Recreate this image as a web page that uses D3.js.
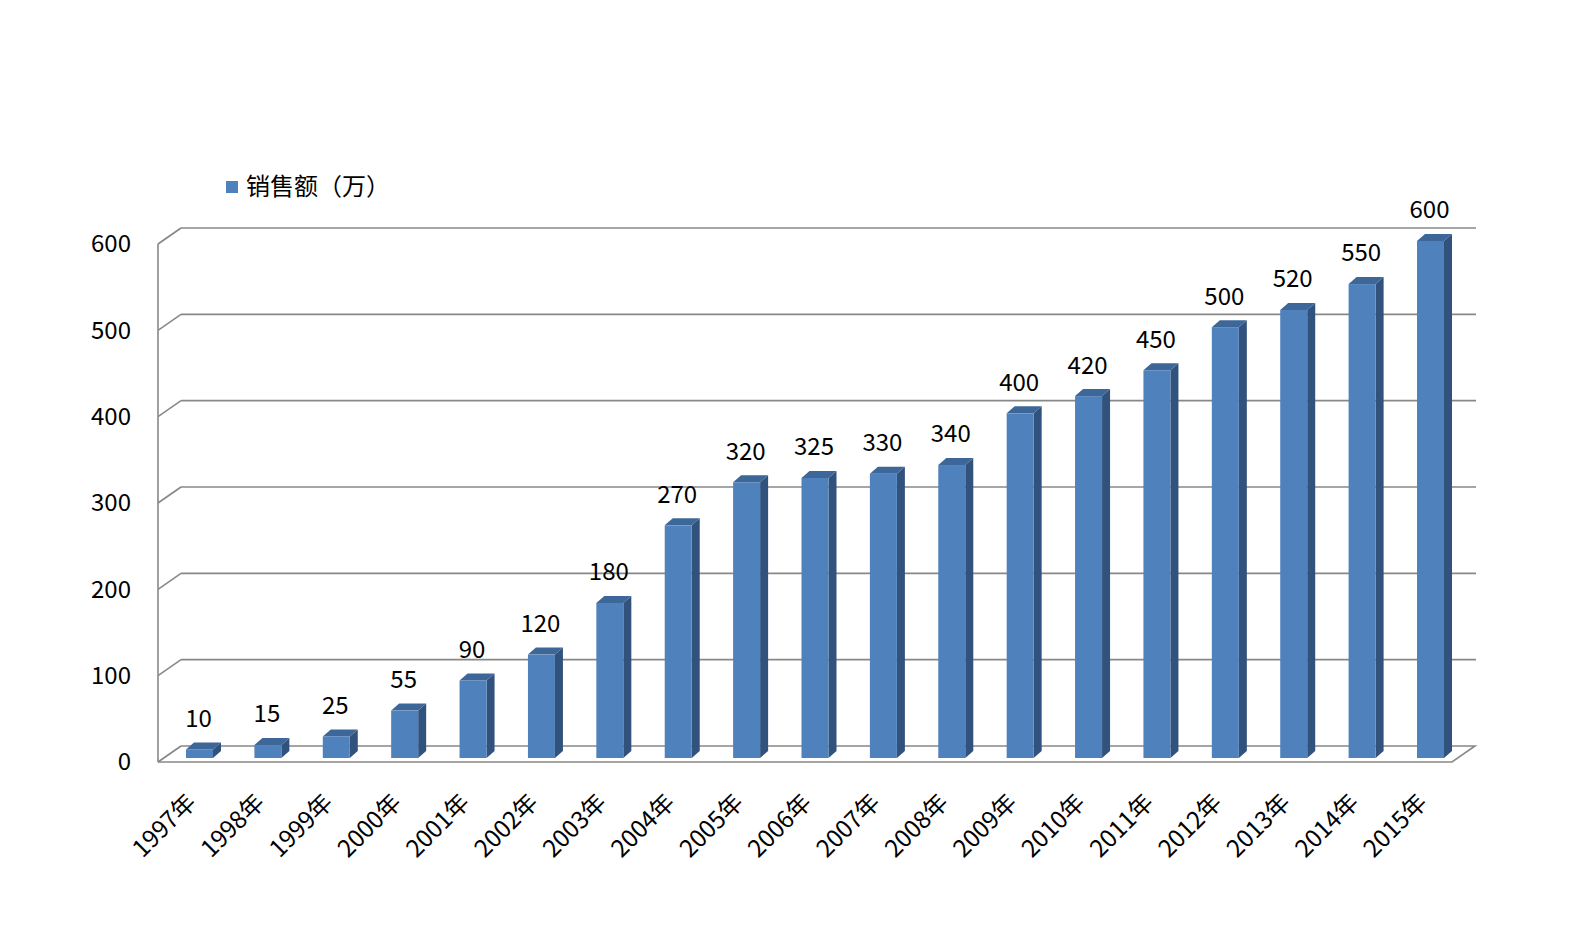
<!DOCTYPE html>
<html><head><meta charset="utf-8">
<script src="https://cdn.jsdelivr.net/npm/d3@7"></script>
<style>body{margin:0;background:#fff}svg{display:block}text{font-family:"Noto Sans CJK SC","Noto Sans",sans-serif;fill:#000}</style>
</head><body>
<script>
const years = ["1997年","1998年","1999年","2000年","2001年","2002年","2003年","2004年","2005年","2006年","2007年","2008年","2009年","2010年","2011年","2012年","2013年","2014年","2015年"];
const sales = [10,15,25,55,90,120,180,270,320,325,330,340,400,420,450,500,520,550,600];
const yTicks = [0,100,200,300,400,500,600];
const seriesName = "销售额（万）";

const W = 1573, H = 930;
const svg = d3.select("body").append("svg").attr("width", W).attr("height", H);

// 3D geometry
const frontL = 158, frontR = 1452, dxW = 23, dyW = -16;
const yFront = d3.scaleLinear().domain([0,600]).range([762, 244]);
const yBack = d3.scaleLinear().domain([0,600]).range([746, 228]);
const yBar = d3.scaleLinear().domain([0,600]).range([758, 241]);
const x = d3.scalePoint().domain(years).range([199.5, 1430.5]);
const bw = 27, bdx = 8, bdy = -7;
const grid = "#888888";
const fs = 24;

// walls / gridlines
const g = svg.append("g").attr("fill","none").attr("stroke",grid).attr("stroke-width",1.6);
yTicks.forEach(v => {
  if (v > 0) {
    g.append("line").attr("x1", frontL + dxW).attr("x2", frontR + dxW + 1).attr("y1", yBack(v)).attr("y2", yBack(v));
  }
  g.append("line").attr("x1", frontL).attr("y1", yFront(v)).attr("x2", frontL + dxW).attr("y2", yBack(v));
});
// floor
g.append("path").attr("d", `M${frontL + dxW},${yBack(0)} L${frontR + dxW},${yBack(0)} L${frontR},${yFront(0)} L${frontL},${yFront(0)}`);
// left front axis
g.append("line").attr("x1", frontL).attr("x2", frontL).attr("y1", yFront(0)).attr("y2", yFront(600));

// y labels
svg.append("g").selectAll("text").data(yTicks).join("text")
  .attr("x", 131).attr("y", d => yFront(d)).attr("dy","0.35em")
  .attr("text-anchor","end").attr("font-size", fs).text(d => d);

// bars
const bars = svg.append("g").selectAll("g").data(years.map((y,i)=>({y, v: sales[i]}))).join("g");
bars.append("path").attr("fill","#30527c").attr("d", d => {
  const x1 = x(d.y) + bw/2, yt = yBar(d.v), yb = yBar(0);
  return `M${x1},${yt} L${x1+bdx},${yt+bdy} L${x1+bdx},${yb+bdy} L${x1},${yb} Z`;
});
bars.append("path").attr("fill","#3d6699").attr("d", d => {
  const x0 = x(d.y) - bw/2, x1 = x(d.y) + bw/2, yt = yBar(d.v);
  return `M${x0},${yt} L${x0+bdx},${yt+bdy} L${x1+bdx},${yt+bdy} L${x1},${yt} Z`;
});
bars.append("rect").attr("fill","#4f81bd")
  .attr("x", d => x(d.y) - bw/2).attr("width", bw)
  .attr("y", d => yBar(d.v)).attr("height", d => yBar(0) - yBar(d.v));
// value labels
bars.append("text").attr("x", d => x(d.y) - 1).attr("y", d => yBar(d.v) - 31).attr("dy","0.35em")
  .attr("text-anchor","middle").attr("font-size", fs).text(d => d.v);

// x labels
svg.append("g").selectAll("text").data(years).join("text")
  .attr("text-anchor","end").attr("font-size", fs)
  .attr("transform", d => `translate(${x(d) - 2},${804}) rotate(-45)`)
  .text(d => d);

// legend
svg.append("rect").attr("x",226).attr("y",181).attr("width",12).attr("height",12).attr("fill","#4f81bd");
svg.append("text").attr("x",246).attr("y",187).attr("dy","0.35em").attr("font-size",fs).text(seriesName);
</script>
</body></html>
